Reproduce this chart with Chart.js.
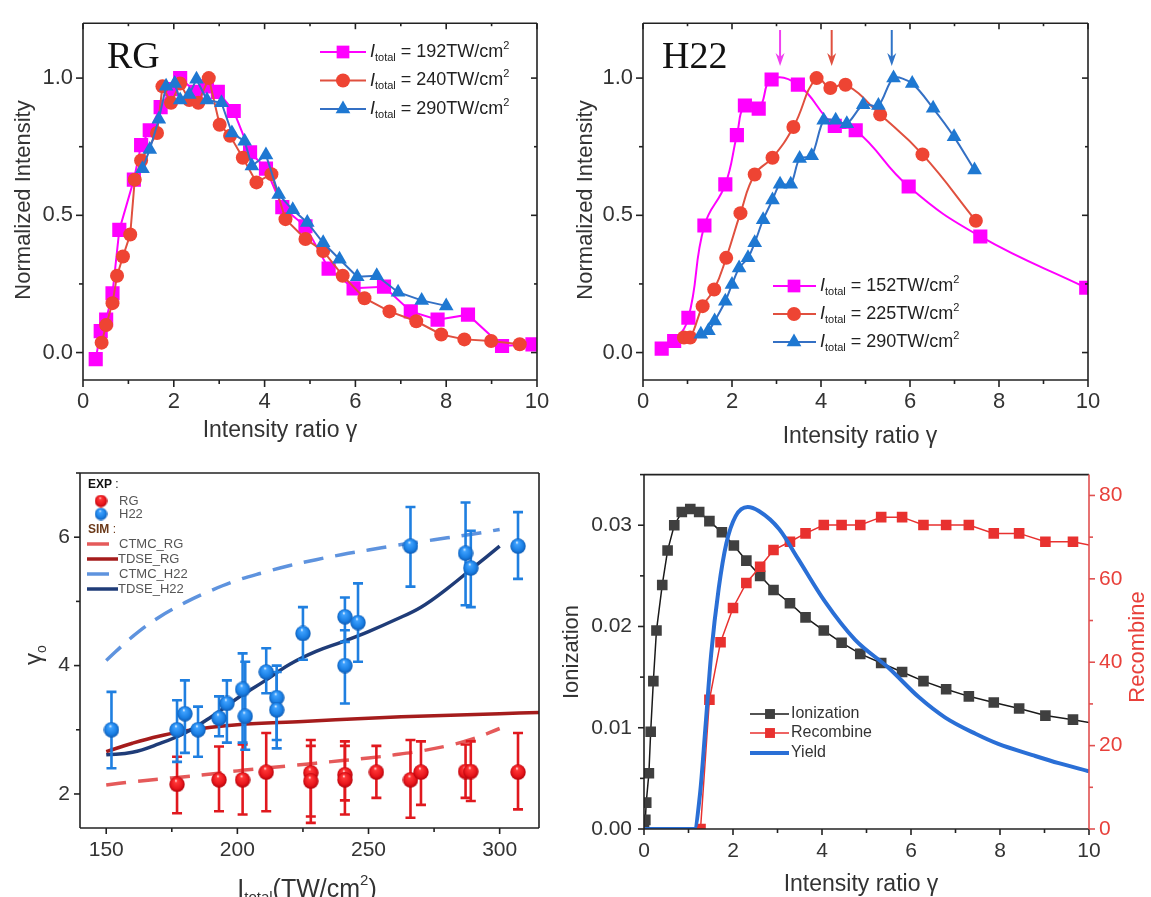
<!DOCTYPE html>
<html><head><meta charset="utf-8">
<script src="https://cdn.jsdelivr.net/npm/chart.js@4.4.0/dist/chart.umd.min.js"></script>
<style>
html,body{margin:0;padding:0;background:#fff;width:1151px;height:897px;overflow:hidden;}
canvas{position:absolute;}
</style></head><body>
<canvas id="c1" style="left:0;top:0" width="560" height="450"></canvas>
<canvas id="c2" style="left:560px;top:0" width="591" height="450"></canvas>
<canvas id="c3" style="left:0;top:450px" width="560" height="447"></canvas>
<canvas id="c4" style="left:560px;top:450px" width="591" height="447"></canvas>
<script>
// ---------------- DATA ----------------
// Panel (a) RG: normalized intensity vs intensity ratio
const rgLegendI = ['192', '240', '290'];
const rg192X = [0.28,0.39,0.51,0.65,0.80,1.12,1.28,1.47,1.71,1.94,2.14,2.48,2.73,2.97,3.32,3.68,4.03,4.39,4.90,5.41,5.96,6.63,7.22,7.81,8.48,9.23,9.90];
const rg192Y = [-0.024,0.078,0.12,0.216,0.447,0.63,0.756,0.81,0.894,0.96,1.0,0.95,0.97,0.95,0.88,0.73,0.67,0.53,0.46,0.306,0.234,0.24,0.15,0.12,0.138,0.024,0.03];
const rg240X = [0.41,0.51,0.65,0.75,0.88,1.04,1.14,1.28,1.63,1.75,1.94,2.14,2.34,2.54,2.77,3.01,3.24,3.52,3.82,4.15,4.46,4.90,5.29,5.72,6.20,6.75,7.34,7.89,8.40,8.99,9.62];
const rg240Y = [0.036,0.10,0.18,0.28,0.35,0.43,0.63,0.70,0.80,0.97,0.91,0.98,0.92,0.91,1.0,0.83,0.79,0.71,0.62,0.65,0.486,0.414,0.37,0.28,0.198,0.15,0.114,0.066,0.048,0.042,0.03];
const rg290X = [1.31,1.47,1.67,1.83,2.02,2.14,2.34,2.50,2.73,3.05,3.28,3.56,3.72,4.03,4.31,4.62,4.94,5.29,5.65,6.04,6.47,6.94,7.46,8.0];
const rg290Y = [0.67,0.74,0.85,0.97,0.98,0.92,0.94,0.996,0.92,0.91,0.80,0.77,0.68,0.72,0.576,0.52,0.474,0.40,0.34,0.276,0.28,0.22,0.19,0.17];

// Panel (b) H22
const h22LegendI = ['152', '225', '290'];
const h22PeakX = [3.08, 4.24, 5.59];
const h152X = [0.42,0.70,1.02,1.38,1.85,2.11,2.29,2.60,2.89,3.48,4.31,4.78,5.97,7.58,9.96];
const h152Y = [0.0145,0.042,0.127,0.463,0.613,0.792,0.90,0.889,0.995,0.976,0.826,0.81,0.605,0.423,0.236];
const h225X = [0.92,1.06,1.34,1.60,1.87,2.19,2.51,2.91,3.38,3.90,4.21,4.55,5.33,6.28,7.48];
const h225Y = [0.055,0.055,0.169,0.23,0.345,0.508,0.649,0.71,0.822,1.0,0.964,0.976,0.867,0.722,0.48];
const h290X = [1.30,1.47,1.61,1.85,2.00,2.16,2.36,2.51,2.70,2.91,3.08,3.32,3.52,3.79,4.06,4.33,4.58,4.95,5.29,5.63,6.05,6.52,6.99,7.45];
const h290Y = [0.067,0.079,0.115,0.187,0.248,0.308,0.345,0.40,0.484,0.556,0.613,0.613,0.707,0.717,0.846,0.846,0.834,0.903,0.90,1.0,0.98,0.89,0.786,0.665];

// Panel (c) gamma_0 vs I_total
const expH22I  = [152,177,180,185,193,196,202,203,211,215,215,225,241,241,246,266,287,289,307];
const expH22G  = [3.0,3.0,3.25,3.0,3.18,3.41,3.63,3.21,3.9,3.5,3.31,4.5,4.0,4.76,4.67,5.86,5.75,5.52,5.86];
const expH22Lo = [2.4,2.5,2.64,2.58,2.9,2.8,2.8,2.69,3.57,2.84,2.71,4.09,3.41,4.37,4.06,5.23,4.94,4.91,5.35];
const expH22Hi = [3.59,3.46,3.77,3.36,3.52,3.77,4.19,4.06,4.27,4.0,3.9,4.91,4.55,5.06,5.28,6.47,6.54,6.1,6.39];
const expRgI  = [177,193,202,211,228,228,241,241,253,266,270,287,289,307];
const expRgG  = [2.15,2.22,2.22,2.34,2.33,2.2,2.3,2.22,2.34,2.22,2.34,2.35,2.35,2.34];
const expRgLo = [1.7,1.73,1.68,1.73,1.55,1.65,1.68,1.9,1.94,1.63,1.83,1.94,1.89,1.76];
const expRgHi = [2.58,2.74,2.77,2.95,2.84,2.75,2.82,2.75,2.75,2.84,2.82,2.77,2.82,2.95];
const simI    = [150,160,170,180,190,200,210,220,230,240,250,260,270,280,290,300];
const ctmcH22 = [4.08,4.45,4.75,4.98,5.17,5.33,5.45,5.56,5.65,5.73,5.80,5.87,5.93,5.99,6.05,6.12];
const tdseH22 = [2.61,2.65,2.78,2.95,3.20,3.49,3.75,4.02,4.22,4.37,4.53,4.71,4.91,5.20,5.53,5.86];
const ctmcRg  = [2.14,2.19,2.23,2.27,2.31,2.36,2.40,2.44,2.48,2.52,2.56,2.61,2.67,2.75,2.86,3.02];
const tdseRgI = [150,160,170,180,190,200,225,250,275,300,315];
const tdseRg  = [2.66,2.79,2.90,2.98,3.04,3.08,3.13,3.18,3.22,3.25,3.27];

// Panel (d) Ionization / Recombine / Yield vs intensity ratio
const ionX = [0,0.03,0.05,0.11,0.15,0.21,0.28,0.41,0.53,0.68,0.85,1.04,1.24,1.47,1.75,2.02,2.30,2.61,2.91,3.28,3.63,4.04,4.44,4.86,5.33,5.80,6.28,6.79,7.30,7.86,8.43,9.02,9.64,10.3];
const ionY = [0,0.0009,0.0026,0.0055,0.0096,0.0146,0.0196,0.0241,0.0275,0.0300,0.0313,0.0316,0.0313,0.0304,0.0293,0.0280,0.0265,0.0250,0.0236,0.0223,0.0209,0.0196,0.0184,0.0173,0.0164,0.0155,0.0146,0.0138,0.0131,0.0125,0.0119,0.0112,0.0108,0.0103];
const recX = [0,1.27,1.47,1.72,2.00,2.30,2.61,2.91,3.28,3.63,4.04,4.44,4.86,5.33,5.80,6.28,6.79,7.30,7.86,8.43,9.02,9.64,10.3];
const recY = [0,0,31.0,44.8,53.0,59.0,62.9,66.9,68.9,70.9,72.9,72.9,72.9,74.8,74.8,72.9,72.9,72.9,70.9,70.9,68.9,68.9,67.5];
const yieldX = [0,0.5,1.0,1.13,1.26,1.38,1.51,1.68,1.85,2.06,2.33,2.58,3.04,3.46,4.06,4.74,5.50,6.18,6.77,7.45,7.96,8.73,9.32,10.0];
const yieldY = [0,0,0,0,0.0035,0.0100,0.0173,0.0238,0.0282,0.0309,0.0318,0.0314,0.0296,0.0267,0.0225,0.0187,0.0159,0.0130,0.0110,0.0094,0.0084,0.0073,0.0065,0.0057];

// ---------------- HELPERS ----------------
const SANS = '"Liberation Sans", Arial, sans-serif';
const SERIF = '"Liberation Serif", "Times New Roman", serif';
const pts = (xs, ys) => xs.map((x, i) => ({x, y: ys[i]}));

function sphere(d, c0, c1, c2) {
  const c = document.createElement('canvas'); c.width = c.height = d;
  const g = c.getContext('2d'); const r = d / 2;
  const gr = g.createRadialGradient(r * 0.85, r * 0.5, r * 0.02, r, r, r);
  gr.addColorStop(0, '#ffffff'); gr.addColorStop(0.18, c0); gr.addColorStop(0.7, c1); gr.addColorStop(1, c2);
  g.fillStyle = gr; g.beginPath(); g.arc(r, r, r - 0.3, 0, Math.PI * 2); g.fill();
  return c;
}
const redSphere = sphere(16, '#ff3838', '#e8161c', '#b00008');
const blueSphere = sphere(16, '#3fa2ff', '#1a7fe4', '#0d58b0');
const redSphereS = sphere(13, '#ff3838', '#e8161c', '#b00008');
const blueSphereS = sphere(13, '#3fa2ff', '#1a7fe4', '#0d58b0');

function richText(ctx, segs, x, y, o) {
  const base = o.size;
  const parts = segs.map(s => {
    const sz = (s.sub || s.sup) ? Math.round(base * 0.6) : base;
    const font = (s.i ? 'italic ' : '') + (s.b ? 'bold ' : '') + sz + 'px ' + (o.family || SANS);
    ctx.font = font;
    return {t: s.t, font, w: ctx.measureText(s.t).width, dy: s.sub ? base * 0.33 : s.sup ? -base * 0.36 : 0};
  });
  const total = parts.reduce((a, p) => a + p.w, 0);
  ctx.save(); ctx.translate(x, y); if (o.rotate) ctx.rotate(o.rotate);
  let cx = o.align === 'center' ? -total / 2 : 0;
  ctx.fillStyle = o.color || '#333'; ctx.textBaseline = 'middle'; ctx.textAlign = 'left';
  parts.forEach(p => { ctx.font = p.font; ctx.fillText(p.t, cx, p.dy); cx += p.w; });
  ctx.restore();
}

function drawMarker(ctx, style, x, y, r, color) {
  ctx.save();
  if (style instanceof HTMLCanvasElement) { ctx.drawImage(style, x - style.width / 2, y - style.height / 2); ctx.restore(); return; }
  ctx.fillStyle = color; ctx.beginPath();
  if (style === 'rect') { const s = Math.SQRT1_2 * r; ctx.rect(x - s, y - s, 2 * s, 2 * s); }
  else if (style === 'triangle') { for (let k = 0; k < 3; k++) { const a = -Math.PI / 2 + k * 2 * Math.PI / 3; const px = x + r * Math.cos(a), py = y + r * Math.sin(a); k ? ctx.lineTo(px, py) : ctx.moveTo(px, py); } ctx.closePath(); }
  else { ctx.arc(x, y, r, 0, Math.PI * 2); }
  ctx.fill(); ctx.restore();
}

function itotal(v) { return [{t: 'I', i: true}, {t: 'total', sub: true}, {t: ' = ' + v + 'TW/cm'}, {t: '2', sup: true}]; }

// frame + tick marks
const boxPlugin = {
  id: 'box',
  afterDraw(chart, args, o) {
    const {ctx, chartArea: a} = chart;
    ctx.save(); ctx.lineWidth = o.width || 1.6; ctx.lineCap = 'butt';
    const sides = o.sides || {};
    const line = (x0, y0, x1, y1, c) => { ctx.strokeStyle = c; ctx.beginPath(); ctx.moveTo(x0, y0); ctx.lineTo(x1, y1); ctx.stroke(); };
    const col = s => sides[s] || o.color;
    line(a.left, a.top, a.right, a.top, col('top'));
    line(a.left, a.bottom, a.right, a.bottom, col('bottom'));
    line(a.left, a.top, a.left, a.bottom, col('left'));
    line(a.right, a.top, a.right, a.bottom, col('right'));
    (o.ticks || []).forEach(t => {
      const s = chart.scales[t.scale];
      const vals = s.ticks.map(k => [k.value, t.len]);
      if (t.minor) {
        const n0 = Math.ceil(s.min / t.minor - 1e-9), n1 = Math.floor(s.max / t.minor + 1e-9);
        for (let n = n0; n <= n1; n++) { const v = n * t.minor; if (!s.ticks.some(k => Math.abs(k.value - v) < t.minor * 0.01)) vals.push([v, t.mlen]); }
      }
      const c = t.color || o.color;
      vals.forEach(([v, len]) => {
        const p = s.getPixelForValue(v);
        if (t.side === 'bottom') line(p, a.bottom, p, a.bottom + (t.out ? len : -len), c);
        if (t.side === 'top') line(p, a.top, p, a.top + (t.out ? -len : len), c);
        if (t.side === 'left') line(a.left, p, a.left + (t.out ? -len : len), p, c);
        if (t.side === 'right') line(a.right, p, a.right + (t.out ? len : -len), p, c);
      });
    });
    ctx.restore();
  }
};

// texts (titles, labels), arrows, custom legend
const decorPlugin = {
  id: 'decor',
  afterDraw(chart, args, o) {
    const ctx = chart.ctx;
    (o.texts || []).forEach(t => richText(ctx, t.segs, t.x, t.y, t));
    (o.arrows || []).forEach(ar => {
      const px = chart.scales.x.getPixelForValue(ar.x);
      ctx.save(); ctx.strokeStyle = ar.color; ctx.fillStyle = ar.color; ctx.lineWidth = 2;
      ctx.beginPath(); ctx.moveTo(px, ar.y0); ctx.lineTo(px, ar.y1 - 6); ctx.stroke();
      ctx.beginPath(); ctx.moveTo(px, ar.y1); ctx.lineTo(px - 4.5, ar.y1 - 13); ctx.lineTo(px, ar.y1 - 9); ctx.lineTo(px + 4.5, ar.y1 - 13); ctx.closePath(); ctx.fill();
      ctx.restore();
    });
    (o.legend || []).forEach(it => {
      if (it.line) {
        ctx.save(); ctx.strokeStyle = it.line.color; ctx.lineWidth = it.line.width; ctx.beginPath();
        ctx.moveTo(it.line.x0, it.y); ctx.lineTo(it.line.x1, it.y); ctx.stroke(); ctx.restore();
      }
      if (it.marker) drawMarker(ctx, it.marker.style, it.marker.x, it.y, it.marker.r, it.marker.color);
      if (it.segs) richText(ctx, it.segs, it.tx, it.y, {size: it.size, color: it.color || '#222', family: it.family});
    });
  }
};

// error bars drawn right before their dataset
const errPlugin = {
  id: 'errbars',
  beforeDatasetDraw(chart, args) {
    const ds = chart.data.datasets[args.index];
    if (!ds.errLo) return;
    const {ctx} = chart; const xs = chart.scales.x, ys = chart.scales.y;
    ctx.save(); ctx.strokeStyle = ds.errColor; ctx.lineWidth = 2.6;
    const a = chart.chartArea; ctx.beginPath(); ctx.rect(a.left, a.top, a.right - a.left, a.bottom - a.top); ctx.clip();
    ds.data.forEach((p, i) => {
      const px = xs.getPixelForValue(p.x), lo = ys.getPixelForValue(ds.errLo[i]), hi = ys.getPixelForValue(ds.errHi[i]);
      ctx.beginPath(); ctx.moveTo(px, lo); ctx.lineTo(px, hi);
      ctx.moveTo(px - 5, lo); ctx.lineTo(px + 5, lo); ctx.moveTo(px - 5, hi); ctx.lineTo(px + 5, hi); ctx.stroke();
    });
    ctx.restore();
  }
};

function axis(o) {
  return {
    type: 'linear', position: o.pos, min: o.min, max: o.max,
    grid: {display: false, drawTicks: false}, border: {display: false}, title: {display: false},
    ticks: {stepSize: o.step, includeBounds: false, padding: o.pad, color: o.color || '#333',
      font: {family: SANS, size: o.fs}, maxRotation: 0, autoSkip: false,
      callback: o.fmt || (v => String(Math.round(v * 1000) / 1000))},
    afterFit(s) { if (o.pos === 'left' || o.pos === 'right') s.width = o.size; else s.height = o.size; }
  };
}
const baseOpts = (pad, scales, plugins) => ({
  responsive: false, animation: false, devicePixelRatio: 1,
  layout: {padding: Object.assign({left: 0, bottom: 0, top: 0, right: 0}, pad)},
  plugins: Object.assign({legend: {display: false}, tooltip: {enabled: false}}, plugins),
  scales
});
const P = [boxPlugin, decorPlugin, errPlugin];

// colours
const MAG = '#ff00ff', RED = '#ee4433', REDL = '#e0503f', BLU = '#1e78d2', BLUL = '#3470c4';

// ---------------- PANEL 1: RG ----------------
new Chart(document.getElementById('c1'), {
  type: 'scatter',
  data: {datasets: [
    {data: pts(rg290X, rg290Y), showLine: true, borderColor: BLUL, borderWidth: 2, pointStyle: 'triangle', pointRadius: 8.5, backgroundColor: BLU, pointBorderWidth: 0, order: 0},
    {data: pts(rg240X, rg240Y), showLine: true, borderColor: REDL, borderWidth: 2, pointStyle: 'circle', pointRadius: 7, backgroundColor: RED, pointBorderWidth: 0, order: 1},
    {data: pts(rg192X, rg192Y), showLine: true, borderColor: MAG, borderWidth: 2, pointStyle: 'rect', pointRadius: 10, backgroundColor: MAG, pointBorderWidth: 0, order: 2}
  ]},
  options: baseOpts({top: 20, right: 23}, {
    x: axis({pos: 'bottom', min: 0, max: 10, step: 2, pad: 9, fs: 22, size: 70}),
    y: axis({pos: 'left', min: -0.1, max: 1.2, step: 0.5, pad: 10, fs: 22, size: 83, fmt: v => v.toFixed(1)})
  }, {
    box: {color: '#222', width: 1.6, ticks: [
      {scale: 'x', side: 'bottom', out: true, len: 7, mlen: 4, minor: 1},
      {scale: 'x', side: 'top', out: false, len: 6, mlen: 3, minor: 1},
      {scale: 'y', side: 'left', out: true, len: 7, mlen: 4, minor: 0.25},
      {scale: 'y', side: 'right', out: false, len: 6, mlen: 3, minor: 0.25}]},
    decor: {
      texts: [
        {segs: [{t: 'Normalized Intensity'}], x: 24, y: 200, size: 22, rotate: -Math.PI / 2, align: 'center', color: '#333'},
        {segs: [{t: 'Intensity ratio γ'}], x: 280, y: 431, size: 23, align: 'center', color: '#333'},
        {segs: [{t: 'RG'}], x: 107, y: 58, size: 38, family: SERIF, color: '#111'}
      ],
      legend: [
        {y: 52, line: {x0: 320, x1: 366, color: MAG, width: 2}, marker: {style: 'rect', x: 343, r: 9, color: MAG}, segs: itotal(rgLegendI[0]), tx: 370, size: 18},
        {y: 80.5, line: {x0: 320, x1: 366, color: REDL, width: 2}, marker: {style: 'circle', x: 343, r: 7, color: RED}, segs: itotal(rgLegendI[1]), tx: 370, size: 18},
        {y: 109, line: {x0: 320, x1: 366, color: BLUL, width: 2}, marker: {style: 'triangle', x: 343, r: 8.5, color: BLU}, segs: itotal(rgLegendI[2]), tx: 370, size: 18}
      ]
    }
  }),
  plugins: P
});

// ---------------- PANEL 2: H22 ----------------
new Chart(document.getElementById('c2'), {
  type: 'scatter',
  data: {datasets: [
    {data: pts(h290X, h290Y), showLine: true, tension: 0.3, borderColor: BLUL, borderWidth: 2, pointStyle: 'triangle', pointRadius: 8.5, backgroundColor: BLU, pointBorderWidth: 0, order: 0},
    {data: pts(h225X, h225Y), showLine: true, tension: 0.45, borderColor: REDL, borderWidth: 2, pointStyle: 'circle', pointRadius: 7, backgroundColor: RED, pointBorderWidth: 0, order: 1},
    {data: pts(h152X, h152Y), showLine: true, tension: 0.45, borderColor: MAG, borderWidth: 2, pointStyle: 'rect', pointRadius: 10, backgroundColor: MAG, pointBorderWidth: 0, order: 2}
  ]},
  options: baseOpts({top: 20, right: 63}, {
    x: axis({pos: 'bottom', min: 0, max: 10, step: 2, pad: 9, fs: 22, size: 70}),
    y: axis({pos: 'left', min: -0.1, max: 1.2, step: 0.5, pad: 10, fs: 22, size: 83, fmt: v => v.toFixed(1)})
  }, {
    box: {color: '#222', width: 1.6, ticks: [
      {scale: 'x', side: 'bottom', out: true, len: 7, mlen: 4, minor: 1},
      {scale: 'x', side: 'top', out: false, len: 6, mlen: 3, minor: 1},
      {scale: 'y', side: 'left', out: true, len: 7, mlen: 4, minor: 0.25},
      {scale: 'y', side: 'right', out: false, len: 6, mlen: 3, minor: 0.25}]},
    decor: {
      texts: [
        {segs: [{t: 'Normalized Intensity'}], x: 26, y: 200, size: 22, rotate: -Math.PI / 2, align: 'center', color: '#333'},
        {segs: [{t: 'Intensity ratio γ'}], x: 300, y: 437, size: 23, align: 'center', color: '#333'},
        {segs: [{t: 'H22'}], x: 102, y: 58, size: 38, family: SERIF, color: '#111'}
      ],
      arrows: [
        {x: h22PeakX[0], y0: 30, y1: 66, color: '#f040f0'},
        {x: h22PeakX[1], y0: 30, y1: 66, color: '#e0503f'},
        {x: h22PeakX[2], y0: 30, y1: 66, color: '#2f74c8'}
      ],
      legend: [
        {y: 286, line: {x0: 213, x1: 256, color: MAG, width: 2}, marker: {style: 'rect', x: 234, r: 9, color: MAG}, segs: itotal(h22LegendI[0]), tx: 260, size: 18},
        {y: 314, line: {x0: 213, x1: 256, color: REDL, width: 2}, marker: {style: 'circle', x: 234, r: 7, color: RED}, segs: itotal(h22LegendI[1]), tx: 260, size: 18},
        {y: 342, line: {x0: 213, x1: 256, color: BLUL, width: 2}, marker: {style: 'triangle', x: 234, r: 8.5, color: BLU}, segs: itotal(h22LegendI[2]), tx: 260, size: 18}
      ]
    }
  }),
  plugins: P
});

// ---------------- PANEL 3: gamma_0 ----------------
const C_CTMC_RG = '#e55a5a', C_TDSE_RG = '#a51c1c', C_CTMC_H22 = '#5e93de', C_TDSE_H22 = '#1f3c78';
new Chart(document.getElementById('c3'), {
  type: 'scatter',
  data: {datasets: [
    {data: pts(expH22I, expH22G), pointStyle: blueSphere, pointRadius: 8, errLo: expH22Lo, errHi: expH22Hi, errColor: '#1f7fe0', order: 0},
    {data: pts(expRgI, expRgG), pointStyle: redSphere, pointRadius: 8, errLo: expRgLo, errHi: expRgHi, errColor: '#e0181e', order: 1},
    {data: pts(simI, tdseH22), showLine: true, tension: 0.4, borderColor: C_TDSE_H22, borderWidth: 3.5, pointRadius: 0, order: 2},
    {data: pts(simI, ctmcH22), showLine: true, tension: 0.4, borderColor: C_CTMC_H22, borderWidth: 3.5, borderDash: [20, 12], pointRadius: 0, order: 3},
    {data: pts(tdseRgI, tdseRg), showLine: true, tension: 0.4, borderColor: C_TDSE_RG, borderWidth: 3.5, pointRadius: 0, order: 4},
    {data: pts(simI, ctmcRg), showLine: true, tension: 0.4, borderColor: C_CTMC_RG, borderWidth: 3.5, borderDash: [20, 12], pointRadius: 0, order: 5}
  ]},
  options: baseOpts({top: 23, right: 21}, {
    x: axis({pos: 'bottom', min: 140, max: 315, step: 50, pad: 10, fs: 21, size: 69}),
    y: axis({pos: 'left', min: 1.47, max: 7, step: 2, pad: 10, fs: 21, size: 80})
  }, {
    box: {color: '#222', width: 1.6, ticks: [
      {scale: 'x', side: 'bottom', out: true, len: 6, mlen: 4, minor: 25},
      {scale: 'y', side: 'left', out: true, len: 6, mlen: 4, minor: 1}]},
    decor: {
      texts: [
        {segs: [{t: 'γ'}, {t: 'o', sub: true}], x: 34, y: 205, size: 24, rotate: -Math.PI / 2, align: 'center', color: '#333'},
        {segs: [{t: 'I'}, {t: 'total', sub: true}, {t: '(TW/cm'}, {t: '2', sup: true}, {t: ')'}], x: 307, y: 440, size: 25, align: 'center', color: '#333'},
        {segs: [{t: 'EXP', b: true}, {t: ' :'}], x: 88, y: 35, size: 12, color: '#111'},
        {segs: [{t: 'SIM', b: true}, {t: ' :'}], x: 88, y: 80, size: 12, color: '#6b3a1a'}
      ],
      legend: [
        {y: 51, marker: {style: redSphereS, x: 101}, segs: [{t: 'RG'}], tx: 119, size: 13, color: '#555'},
        {y: 64, marker: {style: blueSphereS, x: 101}, segs: [{t: 'H22'}], tx: 119, size: 13, color: '#555'},
        {y: 94, line: {x0: 87, x1: 109, color: C_CTMC_RG, width: 3.5}, segs: [{t: 'CTMC_RG'}], tx: 119, size: 13, color: '#555'},
        {y: 109, line: {x0: 87, x1: 118, color: C_TDSE_RG, width: 3.5}, segs: [{t: 'TDSE_RG'}], tx: 118, size: 13, color: '#555'},
        {y: 124, line: {x0: 87, x1: 109, color: C_CTMC_H22, width: 3.5}, segs: [{t: 'CTMC_H22'}], tx: 119, size: 13, color: '#555'},
        {y: 139, line: {x0: 87, x1: 118, color: C_TDSE_H22, width: 3.5}, segs: [{t: 'TDSE_H22'}], tx: 118, size: 13, color: '#555'}
      ]
    }
  }),
  plugins: P
});

// ---------------- PANEL 4: Ionization / Recombine / Yield ----------------
const C_ION = '#3f3f3f', C_REC = '#e8312f', C_YLD = '#2a6fd6';
new Chart(document.getElementById('c4'), {
  type: 'scatter',
  data: {datasets: [
    {data: pts(yieldX, yieldY), showLine: true, cubicInterpolationMode: 'monotone', borderColor: C_YLD, borderWidth: 4, pointRadius: 0, yAxisID: 'y', order: 0},
    {data: pts(recX, recY), showLine: true, borderColor: C_REC, borderWidth: 1.5, pointStyle: 'rect', pointRadius: c => (c.raw && c.raw.x <= 0 ? 0 : 7.5), backgroundColor: C_REC, pointBorderWidth: 0, yAxisID: 'y2', order: 1},
    {data: pts(ionX, ionY), showLine: true, borderColor: '#1a1a1a', borderWidth: 1.5, pointStyle: 'rect', pointRadius: 7.5, backgroundColor: C_ION, pointBorderWidth: 0, yAxisID: 'y', order: 2}
  ]},
  options: baseOpts({top: 23, right: 0}, {
    x: axis({pos: 'bottom', min: 0, max: 10, step: 2, pad: 10, fs: 21, size: 68}),
    y: axis({pos: 'left', min: 0, max: 0.035, step: 0.01, pad: 12, fs: 21, size: 84, fmt: v => v.toFixed(2)}),
    y2: axis({pos: 'right', min: 0, max: 85, step: 20, pad: 10, fs: 21, size: 62, color: '#e8403a'})
  }, {
    box: {color: '#222', width: 1.6, sides: {right: '#e05050'}, ticks: [
      {scale: 'x', side: 'bottom', out: true, len: 6, mlen: 4, minor: 1},
      {scale: 'y', side: 'left', out: true, len: 6, mlen: 4, minor: 0.005},
      {scale: 'y2', side: 'right', out: true, len: 6, mlen: 4, minor: 10, color: '#e05050'}]},
    decor: {
      texts: [
        {segs: [{t: 'Ionization'}], x: 12, y: 202, size: 22, rotate: -Math.PI / 2, align: 'center', color: '#333'},
        {segs: [{t: 'Recombine'}], x: 578, y: 197, size: 22, rotate: -Math.PI / 2, align: 'center', color: '#e8403a'},
        {segs: [{t: 'Intensity ratio γ'}], x: 301, y: 435, size: 23, align: 'center', color: '#333'}
      ],
      legend: [
        {y: 264, line: {x0: 190, x1: 229, color: '#1a1a1a', width: 1.5}, marker: {style: 'rect', x: 210, r: 7, color: C_ION}, segs: [{t: 'Ionization'}], tx: 231, size: 16, color: '#333'},
        {y: 283, line: {x0: 190, x1: 229, color: C_REC, width: 1.5}, marker: {style: 'rect', x: 210, r: 7, color: C_REC}, segs: [{t: 'Recombine'}], tx: 231, size: 16, color: '#333'},
        {y: 303, line: {x0: 190, x1: 229, color: C_YLD, width: 4}, segs: [{t: 'Yield'}], tx: 231, size: 16, color: '#333'}
      ]
    }
  }),
  plugins: P
});
</script>
</body></html>
